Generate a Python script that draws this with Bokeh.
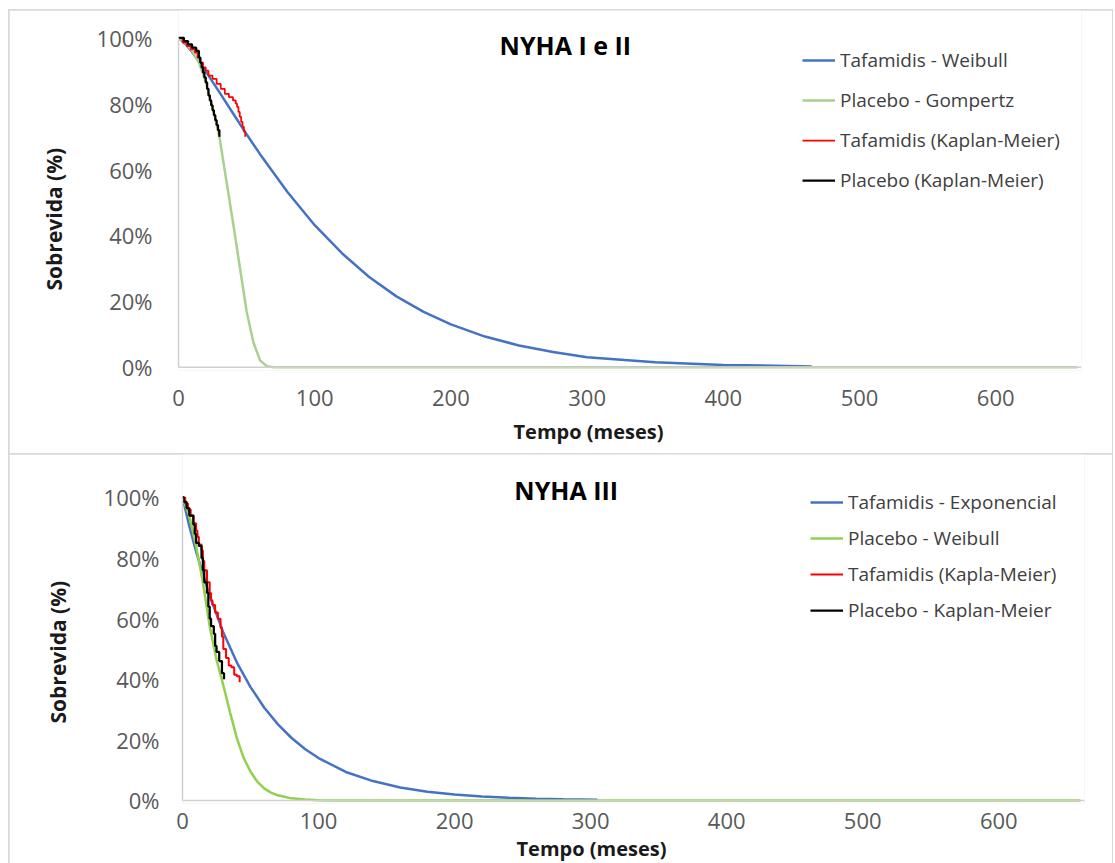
from bokeh.plotting import figure
from bokeh.layouts import column
from bokeh.models import Span, Label, Title, FixedTicker, NumeralTickFormatter, Range1d
from bokeh.embed import file_html
from bokeh.resources import INLINE

FONT = "Open Sans"

# ---------------- axis ticks ----------------
x_ticks = [0, 100, 200, 300, 400, 500, 600]
y_ticks = [0, 0.2, 0.4, 0.6, 0.8, 1.0]

# ---------------- NYHA I e II ----------------
t1_weibull = [0, 5, 10, 20, 30, 40, 50, 60, 80, 100, 120, 140, 160, 180, 200, 225, 250, 275, 300, 350, 400, 465]
s1_weibull = [1.0, 0.982, 0.957, 0.898, 0.835, 0.771, 0.707, 0.646, 0.532, 0.431, 0.346, 0.274, 0.215, 0.168,
              0.130, 0.093, 0.066, 0.046, 0.030, 0.015, 0.007, 0.0025]

t1_gompertz = [0, 5, 10, 15, 20, 25, 30, 35, 40, 45, 50, 55, 60, 65, 70, 660]
s1_gompertz = [1.0, 0.985, 0.96, 0.925, 0.865, 0.79, 0.70, 0.57, 0.44, 0.305, 0.17, 0.075, 0.02, 0.003, 0.0, 0.0]

t1_km_taf = [0, 3, 6, 9, 12, 14, 16, 18, 20, 22, 25, 28, 31, 34, 37, 40, 42, 43, 44, 45, 46, 47, 48, 49]
s1_km_taf = [1.0, 0.985, 0.975, 0.965, 0.955, 0.94, 0.925, 0.91, 0.90, 0.885, 0.875, 0.86, 0.845, 0.83, 0.82,
             0.81, 0.80, 0.79, 0.775, 0.76, 0.745, 0.73, 0.715, 0.70]

t1_km_pla = [0, 4, 7, 10, 13, 15, 16, 17, 18, 19, 20, 21, 22, 23, 24, 25, 26, 27, 28, 29, 30]
s1_km_pla = [1.0, 0.99, 0.98, 0.97, 0.96, 0.94, 0.925, 0.91, 0.895, 0.88, 0.865, 0.845, 0.825, 0.81, 0.795,
             0.78, 0.765, 0.75, 0.735, 0.72, 0.70]

# ---------------- NYHA III ----------------
t3_expo = [0, 5, 10, 20, 30, 40, 50, 60, 70, 80, 90, 100, 120, 140, 160, 180, 200, 220, 240, 260, 280, 305]
s3_expo = [1.0, 0.906, 0.821, 0.675, 0.554, 0.455, 0.374, 0.307, 0.252, 0.207, 0.170, 0.140, 0.094, 0.064,
           0.043, 0.029, 0.0195, 0.013, 0.009, 0.006, 0.004, 0.0025]

t3_weibull = [0, 5, 10, 15, 20, 25, 30, 35, 40, 45, 50, 55, 60, 65, 70, 80, 90, 100, 110, 660]
s3_weibull = [1.0, 0.94, 0.84, 0.72, 0.575, 0.465, 0.38, 0.29, 0.205, 0.14, 0.095, 0.062, 0.04, 0.026, 0.017,
              0.007, 0.003, 0.001, 0.0, 0.0]

t3_km_taf = [0, 2, 4, 6, 8, 10, 11, 12, 14, 15, 16, 18, 20, 21, 22, 24, 26, 28, 29, 30, 32, 34, 36, 38, 40, 42]
s3_km_taf = [1.0, 0.98, 0.96, 0.94, 0.915, 0.89, 0.87, 0.845, 0.825, 0.79, 0.76, 0.72, 0.685, 0.66, 0.645,
             0.62, 0.60, 0.57, 0.54, 0.50, 0.47, 0.445, 0.44, 0.415, 0.41, 0.39]

t3_km_pla = [0, 1, 3, 5, 8, 9, 10, 12, 14, 15, 16, 18, 19, 20, 21, 23, 24, 25, 27, 29, 30.5]
s3_km_pla = [1.0, 0.985, 0.965, 0.94, 0.91, 0.88, 0.85, 0.84, 0.80, 0.76, 0.72, 0.685, 0.64, 0.60, 0.575,
             0.55, 0.51, 0.49, 0.46, 0.42, 0.40]

BLUE = "#4472C4"
GREEN1 = "#A9D18E"
GREEN3 = "#92D050"
RED = "#FF0000"
BLACK = "#000000"
AXIS = "#d0d0d0"
TICK = "#595959"


def make_fig(h, ytop, mbl, mbr, mbb, xstand, ystand, margin):
    p = figure(width=1103, height=h, x_range=Range1d(0, 663), y_range=Range1d(-0.01, ytop),
               output_backend="svg", toolbar_location=None,
               min_border_left=mbl, min_border_right=mbr, min_border_top=0, min_border_bottom=mbb,
               margin=margin, frame_align=False)
    p.outline_line_color = None
    p.grid.visible = False
    p.background_fill_color = "white"
    p.border_fill_color = "white"
    p.xaxis.ticker = FixedTicker(ticks=x_ticks)
    p.yaxis.ticker = FixedTicker(ticks=y_ticks)
    p.yaxis.formatter = NumeralTickFormatter(format="0%")
    for ax in (p.xaxis[0], p.yaxis[0]):
        ax.major_tick_line_color = None
        ax.minor_tick_line_color = None
        ax.major_tick_out = 0
        ax.major_tick_in = 0
        ax.major_label_text_font = FONT
        ax.major_label_text_font_size = "22px"
        ax.major_label_text_color = TICK
    p.xaxis.axis_line_color = None
    p.yaxis.axis_line_color = AXIS
    p.yaxis.axis_line_width = 1.5
    p.yaxis.bounds = (0, 1)
    p.xaxis.major_label_standoff = xstand
    p.yaxis.major_label_standoff = ystand
    p.add_layout(Span(location=0, dimension="width", line_color=AXIS, line_width=1.5))
    return p


def style_legend(p, loc, spacing):
    lg = p.legend[0]
    lg.location = loc
    lg.padding = 0
    lg.margin = 0
    lg.spacing = spacing
    lg.glyph_width = 33
    lg.glyph_height = 20
    lg.label_height = 20
    lg.label_standoff = 5
    lg.label_text_font = FONT
    lg.label_text_font_size = "19px"
    lg.label_text_color = "#404040"
    lg.background_fill_alpha = 0
    lg.border_line_color = None


def add_axis_titles(p, xoffset, xstandoff, yoffset, ystandoff):
    p.add_layout(Title(text="Tempo (meses)", align="left", offset=xoffset, standoff=xstandoff,
                       text_font=FONT, text_font_size="20px", text_font_style="bold",
                       text_color="#1a1a1a"), "below")
    p.add_layout(Title(text="Sobrevida (%)", align="left", offset=yoffset, standoff=ystandoff,
                       text_font=FONT, text_font_size="21px", text_font_style="bold",
                       text_color="#1a1a1a"), "left")


# ---------- top chart ----------
p1 = make_fig(443, 1.0829, 169, 31, 83, 19, 26, (1, 1, 0, 1))
p1.line(t1_weibull, s1_weibull, line_color=BLUE, line_width=2.5, legend_label="Tafamidis - Weibull")
p1.line(t1_gompertz, s1_gompertz, line_color=GREEN1, line_width=2.5, legend_label="Placebo - Gompertz")
p1.step(t1_km_taf, s1_km_taf, mode="after", line_color=RED, line_width=1.75, legend_label="Tafamidis (Kaplan-Meier)")
p1.step(t1_km_pla, s1_km_pla, mode="after", line_color=BLACK, line_width=2.25, legend_label="Placebo (Kaplan-Meier)")
style_legend(p1, (624, 177), 14)
p1.add_layout(Label(x=284, y=0.977, text="NYHA I e II", text_align="center", text_baseline="middle",
                    text_font=FONT, text_font_size="25px", text_font_style="bold", text_color="#000000"))
add_axis_titles(p1, 335, 15, 80, 52)

# ---------- bottom chart ----------
p2 = make_fig(409, 1.1417, 173, 28, 59, 9, 23, (1, 1, 0, 1))
p2.line(t3_expo, s3_expo, line_color=BLUE, line_width=2.5, legend_label="Tafamidis - Exponencial")
p2.line(t3_weibull, s3_weibull, line_color=GREEN3, line_width=2.5, legend_label="Placebo - Weibull")
p2.step(t3_km_taf, s3_km_taf, mode="after", line_color=RED, line_width=2.0, legend_label="Tafamidis (Kapla-Meier)")
p2.step(t3_km_pla, s3_km_pla, mode="after", line_color=BLACK, line_width=2.25, legend_label="Placebo - Kaplan-Meier")
style_legend(p2, (628, 180), 10)
p2.add_layout(Label(x=282, y=1.023, text="NYHA III", text_align="center", text_baseline="middle",
                    text_font=FONT, text_font_size="25px", text_font_style="bold", text_color="#000000"))
add_axis_titles(p2, 334, 3, 80, 57)

layout = column(p1, p2, margin=(9, 0, 0, 8), spacing=0, styles={"background-color": "#d9d9d9"})

with open("out.html", "w") as f:
    f.write(file_html(layout, INLINE))
